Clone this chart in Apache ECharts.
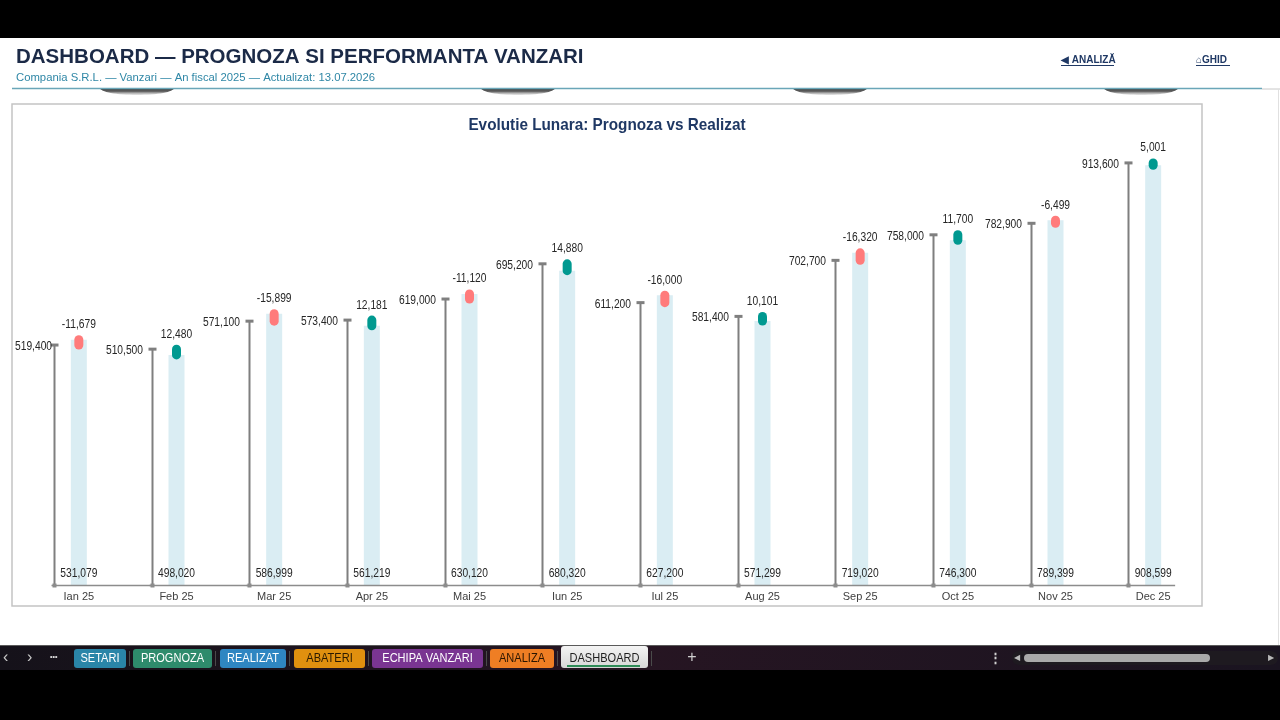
<!DOCTYPE html>
<html>
<head>
<meta charset="utf-8">
<script src="https://cdn.jsdelivr.net/npm/echarts@6/dist/echarts.min.js"></script>
<style>
  html, body { margin: 0; padding: 0; background: #000; }
  #chart { width: 1280px; height: 720px; }
</style>
</head>
<body>
<div id="chart"></div>
<script>
// ---- Data ----
const categories = ['Ian 25', 'Feb 25', 'Mar 25', 'Apr 25', 'Mai 25', 'Iun 25', 'Iul 25', 'Aug 25', 'Sep 25', 'Oct 25', 'Nov 25', 'Dec 25'];
const prognoza = [519400, 510500, 571100, 573400, 619000, 695200, 611200, 581400, 702700, 758000, 782900, 913600];
const realizat = [531079, 498020, 586999, 561219, 630120, 680320, 627200, 571299, 719020, 746300, 789399, 908599];
const abatere = [-11679, 12480, -15899, 12181, -11120, 14880, -16000, 10101, -16320, 11700, -6499, 5001];
const sheetTabs = ['SETARI', 'PROGNOZA', 'REALIZAT', 'ABATERI', 'ECHIPA VANZARI', 'ANALIZA', 'DASHBOARD'];

const SANS = '"Liberation Sans", Arial, sans-serif';
const fmt = v => v.toLocaleString('en-US');

const measureCtx = document.createElement('canvas').getContext('2d');
function textWidth(txt, font) { measureCtx.font = font; return measureCtx.measureText(txt).width; }

const LABEL_FONT = '12.5px ' + SANS;
const NARROW_SCALE = 0.82;
const BOX = { x: 12, y: 104, w: 1190, h: 502 };

function narrowText(x, y, txt, align, vAlign, font, fill, scale) {
  return { type: 'text', x: x, y: y, scaleX: scale || NARROW_SCALE, style: { text: txt, align: align, verticalAlign: vAlign, font: font || LABEL_FONT, fill: fill || '#262626' } };
}

function renderForecast(params, api) {
  const i = params.dataIndex;
  const v = api.value(1);
  const top = api.coord([i, v]);
  const base = api.coord([i, 0]);
  const band = api.size([1, 0])[0];
  const x = Math.round(top[0] - band * 0.255) + 0.5;
  const last = i === categories.length - 1;
  const axisEnd = last ? top[0] + band * 0.225 : x + band;
  const txt = fmt(v);
  const w = textWidth(txt, LABEL_FONT) * NARROW_SCALE;
  const right = Math.max(x - 9.5, BOX.x + 3 + w);
  return {
    type: 'group',
    children: [
      { type: 'line', shape: { x1: x - 3, y1: base[1] + 0.5, x2: axisEnd, y2: base[1] + 0.5 }, style: { stroke: '#8C8C8C', lineWidth: 1.5 } },
      { type: 'line', shape: { x1: x, y1: base[1], x2: x, y2: top[1] }, style: { stroke: '#7F7F7F', lineWidth: 2 } },
      { type: 'line', shape: { x1: x - 4, y1: top[1], x2: x + 4, y2: top[1] }, style: { stroke: '#7F7F7F', lineWidth: 3 } },
      { type: 'rect', shape: { x: x - 2, y: base[1] - 1.5, width: 4, height: 4 }, style: { fill: '#8C8C8C' } },
      narrowText(right, top[1] + 1.5, txt, 'right', 'middle')
    ]
  };
}

function renderDeviation(params, api) {
  const i = params.dataIndex;
  const f = api.coord([i, api.value(1)]);
  const r = api.coord([i, api.value(2)]);
  const base = api.coord([i, 0]);
  const dev = api.value(3);
  const color = dev < 0 ? '#FF7B7B' : '#009990';
  const topY = Math.min(f[1], r[1]) - 4.5;
  return {
    type: 'group',
    children: [
      { type: 'line', shape: { x1: f[0], y1: f[1], x2: r[0], y2: r[1] }, style: { stroke: color, lineWidth: 9, lineCap: 'round' } },
      narrowText(f[0], topY - 4, fmt(dev), 'center', 'bottom'),
      narrowText(r[0], base[1] - 5, fmt(api.value(2)), 'center', 'bottom')
    ]
  };
}

// ---- Page chrome ----
const graphics = [];
graphics.push({ type: 'rect', shape: { x: 0, y: 38, width: 1280, height: 607 }, style: { fill: '#FFFFFF' }, z: -20, silent: true });
[137, 518, 830, 1141].forEach(cx => {
  graphics.push({ type: 'ellipse', shape: { cx: cx, cy: 88, rx: 37, ry: 7 }, style: {
    fill: { type: 'linear', x: 0, y: 0, x2: 0, y2: 1, colorStops: [{ offset: 0.5, color: '#2E2E2E' }, { offset: 0.75, color: '#666666' }, { offset: 1, color: 'rgba(190,190,190,0.4)' }] } }, z: -15, silent: true });
});
graphics.push({ type: 'rect', shape: { x: 0, y: 38, width: 1280, height: 50 }, style: { fill: '#FFFFFF' }, z: -12, silent: true });
graphics.push({ type: 'line', shape: { x1: 12, y1: 88.5, x2: 1262, y2: 88.5 }, style: { stroke: '#6AA6B8', lineWidth: 1.5 }, z: -10 });
graphics.push({ type: 'line', shape: { x1: 1262, y1: 89, x2: 1280, y2: 89 }, style: { stroke: '#C8C8C8', lineWidth: 1 }, z: -10 });
graphics.push({ type: 'line', shape: { x1: 1278.5, y1: 89, x2: 1278.5, y2: 645 }, style: { stroke: '#E0E0E0', lineWidth: 1 }, z: -10 });
graphics.push({ type: 'text', x: 16, y: 57, style: { text: 'DASHBOARD — PROGNOZA SI PERFORMANTA VANZARI', font: 'bold 20.5px ' + SANS, fill: '#1B2A47', verticalAlign: 'middle' } });
graphics.push({ type: 'text', x: 16, y: 77.5, style: { text: 'Compania S.R.L. — Vanzari — An fiscal 2025 — Actualizat: 13.07.2026', font: '11.3px ' + SANS, fill: '#2F87A6', verticalAlign: 'middle' } });
graphics.push({ type: 'text', x: 1061, y: 60, style: { text: '◀ ANALIZĂ', font: 'bold 10px ' + SANS, fill: '#1F3864', verticalAlign: 'middle' } });
graphics.push({ type: 'line', shape: { x1: 1061, y1: 65.5, x2: 1114, y2: 65.5 }, style: { stroke: '#1F3864', lineWidth: 1 } });
graphics.push({ type: 'text', x: 1196, y: 60, style: { text: '⌂GHID', font: 'bold 10px ' + SANS, fill: '#1F3864', verticalAlign: 'middle' } });
graphics.push({ type: 'line', shape: { x1: 1196, y1: 65.5, x2: 1230, y2: 65.5 }, style: { stroke: '#1F3864', lineWidth: 1 } });
graphics.push({ type: 'rect', shape: { x: BOX.x, y: BOX.y, width: BOX.w, height: BOX.h }, style: { fill: '#FFFFFF', stroke: '#C4C4C4', lineWidth: 1.5 }, z: -5, silent: true });
graphics.push({ type: 'text', x: BOX.x + BOX.w / 2, y: 125, scaleX: 0.9, style: { text: 'Evolutie Lunara: Prognoza vs Realizat', font: 'bold 17px ' + SANS, fill: '#1F3864', align: 'center', verticalAlign: 'middle' } });

// ---- Sheet tab bar ----
graphics.push({ type: 'rect', shape: { x: 0, y: 645, width: 1280, height: 25 }, style: {
  fill: { type: 'linear', x: 0, y: 0, x2: 1, y2: 0, colorStops: [{ offset: 0, color: '#15121A' }, { offset: 0.5, color: '#261522' }, { offset: 1, color: '#1A1420' }] } }, z: -10 });
graphics.push({ type: 'line', shape: { x1: 0, y1: 645.5, x2: 1280, y2: 645.5 }, style: { stroke: '#5A5A5A', lineWidth: 1 } });
graphics.push({ type: 'text', x: 3, y: 658, style: { text: '‹', font: '16px ' + SANS, fill: '#C8C8C8', verticalAlign: 'middle' } });
graphics.push({ type: 'text', x: 27, y: 658, style: { text: '›', font: '16px ' + SANS, fill: '#C8C8C8', verticalAlign: 'middle' } });
graphics.push({ type: 'text', x: 50, y: 657, style: { text: '•••', font: 'bold 7px ' + SANS, fill: '#E0E0E0', verticalAlign: 'middle' } });
const tabX = [[74, 126], [133, 212], [220, 286], [294, 365], [372, 483], [490, 554], [561, 648]];
const tabFill = ['#2A85A8', '#2E8B6C', '#2F86C2', '#E0900F', '#7A3592', '#EF7E24', null];
const tabText = ['#FFFFFF', '#FFFFFF', '#FFFFFF', '#2B1A00', '#FFFFFF', '#2B1500', '#1E1E1E'];
sheetTabs.forEach((name, k) => {
  const [x0, x1] = tabX[k];
  const active = tabFill[k] === null;
  graphics.push({ type: 'rect', shape: { x: x0, y: active ? 646 : 649, width: x1 - x0, height: active ? 22 : 19, r: 3 }, style: {
    fill: active ? { type: 'linear', x: 0, y: 0, x2: 0, y2: 1, colorStops: [{ offset: 0, color: '#F4F4F4' }, { offset: 1, color: '#D6D6D6' }] } : tabFill[k] } });
  graphics.push({ type: 'text', x: (x0 + x1) / 2, y: 658.5, scaleX: 0.85, style: { text: name, font: '13px ' + SANS, fill: tabText[k], align: 'center', verticalAlign: 'middle' } });
  if (active) graphics.push({ type: 'line', shape: { x1: x0 + 6, y1: 666, x2: x1 - 8, y2: 666 }, style: { stroke: '#2E8B57', lineWidth: 2 } });
  graphics.push({ type: 'line', shape: { x1: x1 + 3.5, y1: 651, x2: x1 + 3.5, y2: 666 }, style: { stroke: '#4A4A4A', lineWidth: 1 } });
});
graphics.push({ type: 'text', x: 692, y: 658, style: { text: '+', font: '16px ' + SANS, fill: '#D0D0D0', align: 'center', verticalAlign: 'middle' } });
graphics.push({ type: 'text', x: 995, y: 658, style: { text: '⋮', font: 'bold 13px ' + SANS, fill: '#D0D0D0', align: 'center', verticalAlign: 'middle' } });
graphics.push({ type: 'rect', shape: { x: 1012, y: 651, width: 266, height: 14, r: 7 }, style: { fill: '#1E1A20' } });
graphics.push({ type: 'rect', shape: { x: 1024, y: 654, width: 186, height: 8, r: 4 }, style: { fill: '#A9A9A9' } });
graphics.push({ type: 'text', x: 1017, y: 658, style: { text: '◀', font: '8px ' + SANS, fill: '#B8B8B8', align: 'center', verticalAlign: 'middle' } });
graphics.push({ type: 'text', x: 1271, y: 658, style: { text: '▶', font: '8px ' + SANS, fill: '#B8B8B8', align: 'center', verticalAlign: 'middle' } });

const chart = echarts.init(document.getElementById('chart'), null, { renderer: 'canvas' });
chart.setOption({
  backgroundColor: '#000000',
  animation: false,
  graphic: { elements: graphics },
  grid: { left: 30, right: 78, top: 123, bottom: 135 },
  xAxis: {
    type: 'category',
    data: categories,
    axisLine: { show: false },
    axisTick: { show: false },
    axisLabel: { fontSize: 11, fontFamily: SANS, color: '#404040', margin: 6 }
  },
  yAxis: { type: 'value', min: 0, max: 1000000, show: false, splitLine: { show: false } },
  series: [
    {
      name: 'Realizat', type: 'bar', data: realizat, barWidth: 16, z: 2,
      itemStyle: { color: '#DAEDF3' }
    },
    {
      name: 'Prognoza', type: 'custom', z: 3,
      data: prognoza.map((v, i) => [i, v]),
      encode: { x: 0, y: 1 },
      renderItem: renderForecast
    },
    {
      name: 'Abatere', type: 'custom', z: 4,
      data: prognoza.map((v, i) => [i, v, realizat[i], abatere[i]]),
      encode: { x: 0, y: [1, 2] },
      renderItem: renderDeviation
    }
  ]
});
</script>
</body>
</html>
